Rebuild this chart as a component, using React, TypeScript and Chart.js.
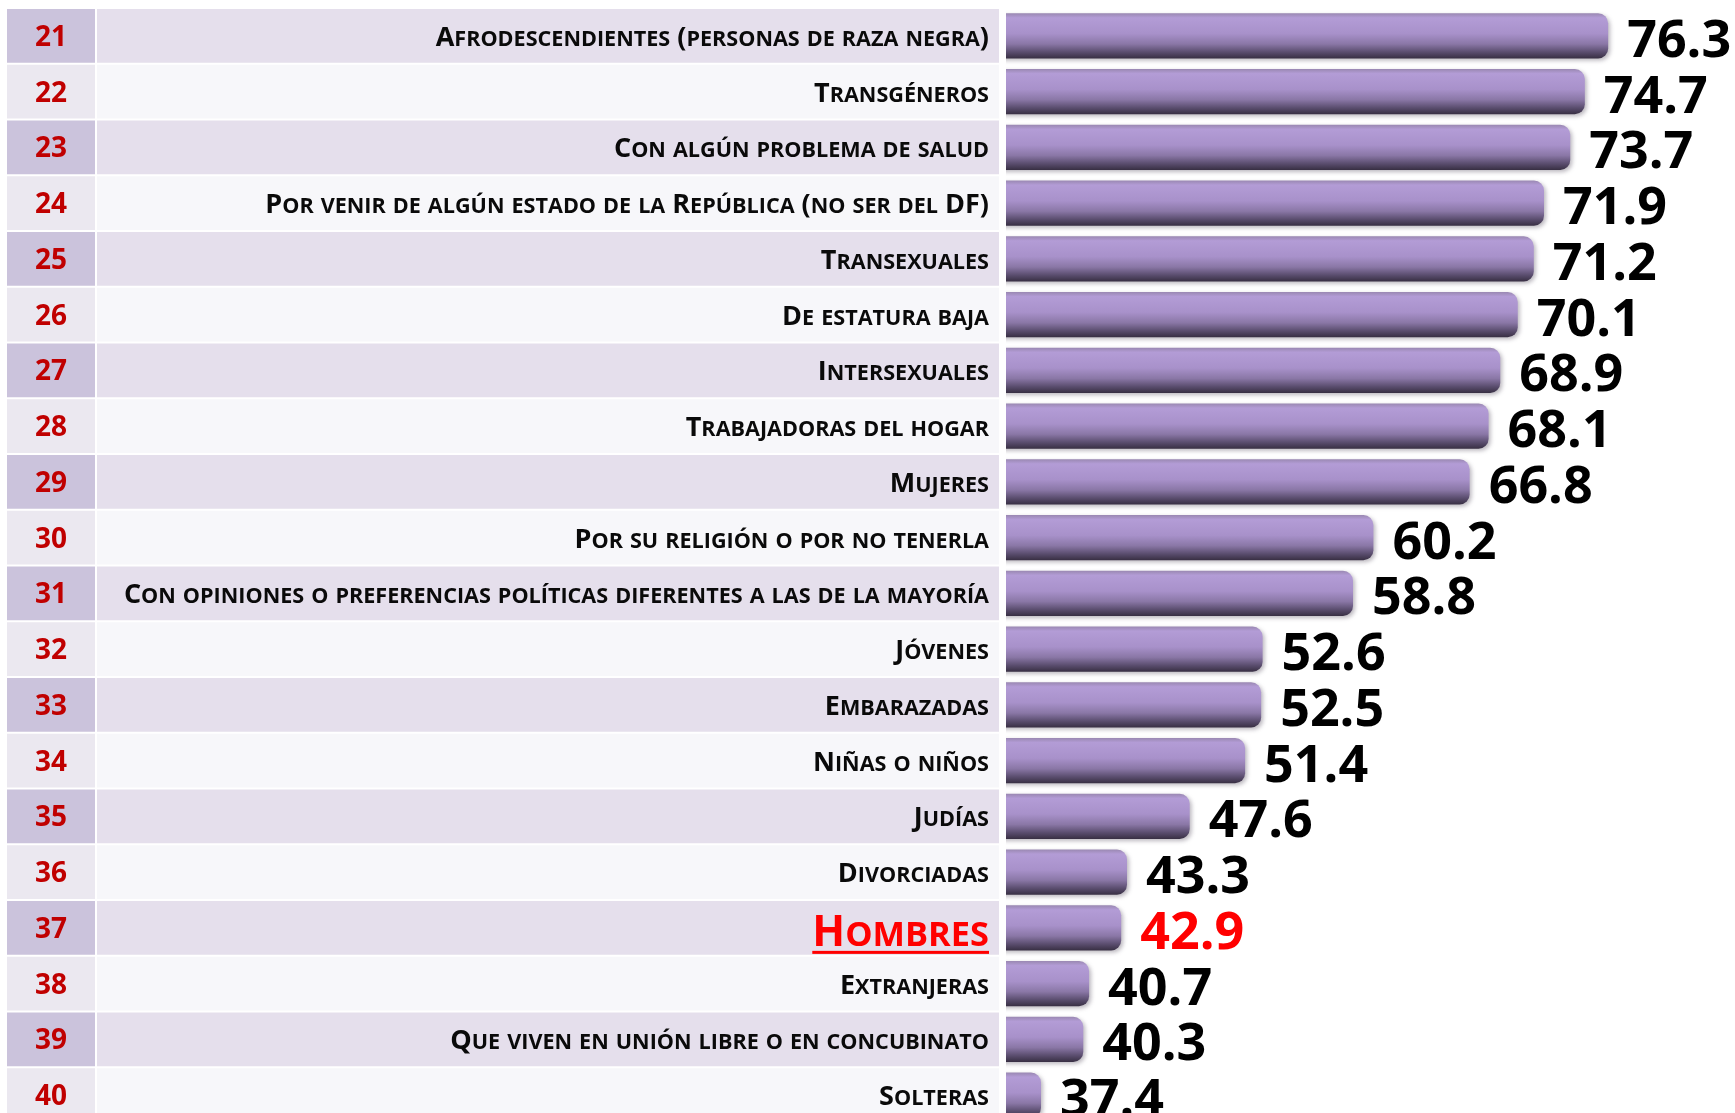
import React, { useEffect, useRef } from "react";
import { Chart, registerables } from "chart.js";

Chart.register(...registerables);

// Ranking positions shown in the left column
const ranks = ["21", "22", "23", "24", "25", "26", "27", "28", "29", "30", "31", "32", "33", "34", "35", "36", "37", "38", "39", "40"];

// Group names (rendered in small caps)
const categories = [
  "Afrodescendientes (personas de raza negra)",
  "Transgéneros",
  "Con algún problema de salud",
  "Por venir de algún estado de la República (no ser del DF)",
  "Transexuales",
  "De estatura baja",
  "Intersexuales",
  "Trabajadoras del hogar",
  "Mujeres",
  "Por su religión o por no tenerla",
  "Con opiniones o preferencias políticas diferentes a las de la mayoría",
  "Jóvenes",
  "Embarazadas",
  "Niñas o niños",
  "Judías",
  "Divorciadas",
  "Hombres",
  "Extranjeras",
  "Que viven en unión libre o en concubinato",
  "Solteras",
];

// Percentage values per group
const values = [76.3, 74.7, 73.7, 71.9, 71.2, 70.1, 68.9, 68.1, 66.8, 60.2, 58.8, 52.6, 52.5, 51.4, 47.6, 43.3, 42.9, 40.7, 40.3, 37.4];

// Group that is emphasised in red
const highlighted = "Hombres";

const FONT = "'Open Sans', 'DejaVu Sans', sans-serif";
const BAR_PCT = 0.81;
const SMALL_CAPS_RATIO = 0.8;

function rowPitch(chart: any) {
  const y = chart.scales.y;
  return Math.abs(y.getPixelForValue(1) - y.getPixelForValue(0));
}

// Right-aligned small-caps text: lowercase letters become reduced capitals.
function drawSmallCaps(ctx: CanvasRenderingContext2D, text: string, right: number, base: number, size: number, maxWidth: number) {
  const runs: { s: string; px: number }[] = [];
  for (const ch of text) {
    const lower = ch !== ch.toUpperCase();
    const px = lower ? size * SMALL_CAPS_RATIO : size;
    const last = runs[runs.length - 1];
    if (last && last.px === px) last.s += lower ? ch.toUpperCase() : ch;
    else runs.push({ s: lower ? ch.toUpperCase() : ch, px });
  }
  let total = 0;
  const widths = runs.map((r) => {
    ctx.font = `bold ${r.px}px ${FONT}`;
    const w = ctx.measureText(r.s).width;
    total += w;
    return w;
  });
  const k = total > maxWidth ? maxWidth / total : 1;
  ctx.save();
  ctx.translate(right - total * k, base);
  ctx.scale(k, 1);
  ctx.textAlign = "left";
  ctx.textBaseline = "alphabetic";
  let x = 0;
  runs.forEach((r, i) => {
    ctx.font = `bold ${r.px}px ${FONT}`;
    ctx.fillText(r.s, x, 0);
    x += widths[i];
  });
  ctx.restore();
  return total * k;
}

const tablePlugin = {
  id: "tableRows",
  beforeDatasetsDraw(chart: any) {
    const ctx = chart.ctx;
    const y = chart.scales.y;
    const pitch = rowPitch(chart);
    ctx.save();
    categories.forEach((_, i) => {
      const c = y.getPixelForValue(i);
      const top = c - pitch / 2 + 1;
      const h = pitch - 2;
      const odd = i % 2 === 0;
      ctx.fillStyle = odd ? "#CBC3DC" : "#EBE8F0";
      ctx.fillRect(7, top, 88, h);
      ctx.fillStyle = odd ? "#E5DFEC" : "#F7F7FA";
      ctx.fillRect(97, top, 902, h);
    });
    ctx.restore();
    // soft drop shadow under the bars
    ctx.save();
    ctx.shadowColor = "rgba(60,50,70,0.35)";
    ctx.shadowBlur = 4;
    ctx.shadowOffsetX = 2;
    ctx.shadowOffsetY = 2;
  },
  afterDatasetsDraw(chart: any) {
    const ctx = chart.ctx;
    ctx.restore();
    const y = chart.scales.y;
    const meta = chart.getDatasetMeta(0);
    ctx.save();
    categories.forEach((name, i) => {
      const c = y.getPixelForValue(i);
      const hot = name === highlighted;

      // rank number
      ctx.font = `bold 28px ${FONT}`;
      ctx.fillStyle = "#C00000";
      ctx.textAlign = "center";
      ctx.textBaseline = "alphabetic";
      ctx.fillText(ranks[i], 51, c + 10);

      // group name
      ctx.fillStyle = hot ? "#FF0000" : "#0A0A0A";
      const size = hot ? 43 : 27;
      const base = c + (hot ? 18 : 10);
      const w = drawSmallCaps(ctx, name, 989, base, size, 880);
      if (hot) ctx.fillRect(989 - w, base + 5, w, 3);

      // value label after the bar end
      const bar = meta.data[i];
      ctx.font = `bold 52px ${FONT}`;
      ctx.fillStyle = hot ? "#FF0000" : "#000000";
      ctx.textAlign = "left";
      ctx.textBaseline = "alphabetic";
      ctx.fillText(values[i].toFixed(1), bar.x + 19, c + 21);
    });
    ctx.restore();
  },
};

export default function App() {
  const ref = useRef<HTMLCanvasElement | null>(null);

  useEffect(() => {
    if (!ref.current) return;
    const chart = new Chart(ref.current, {
      type: "bar",
      data: {
        labels: categories,
        datasets: [
          {
            data: values,
            backgroundColor: (context: any) => {
              const ch = context.chart;
              if (!ch.chartArea || !ch.scales.y) return "#AD95CF";
              const c = ch.scales.y.getPixelForValue(context.dataIndex);
              const h = rowPitch(ch) * BAR_PCT;
              const g = ch.ctx.createLinearGradient(0, c - h / 2, 0, c + h / 2);
              g.addColorStop(0, "#9A88B2");
              g.addColorStop(0.1, "#B39CD6");
              g.addColorStop(0.45, "#A891CA");
              g.addColorStop(0.68, "#8A77A6");
              g.addColorStop(0.86, "#5A4D6E");
              g.addColorStop(1, "#382F43");
              return g;
            },
            borderRadius: 10,
            borderSkipped: "start",
            barPercentage: BAR_PCT,
            categoryPercentage: 1,
          },
        ],
      },
      options: {
        indexAxis: "y",
        responsive: false,
        animation: false,
        devicePixelRatio: 1,
        layout: { padding: { left: 1006, right: 0, top: 8, bottom: 0 } },
        scales: {
          x: { min: 35, max: 85, display: false },
          y: { display: false },
        },
        plugins: {
          legend: { display: false },
          tooltip: { enabled: false },
        },
      },
      plugins: [tablePlugin],
    });
    return () => chart.destroy();
  }, []);

  return (
    <div
      style={{
        position: "fixed",
        left: 0,
        top: 0,
        width: 1735,
        height: 1113,
        overflow: "hidden",
        background: "#FFFFFF",
      }}
    >
      <canvas ref={ref} width={1735} height={1123} style={{ width: 1735, height: 1123, display: "block" }} />
    </div>
  );
}
